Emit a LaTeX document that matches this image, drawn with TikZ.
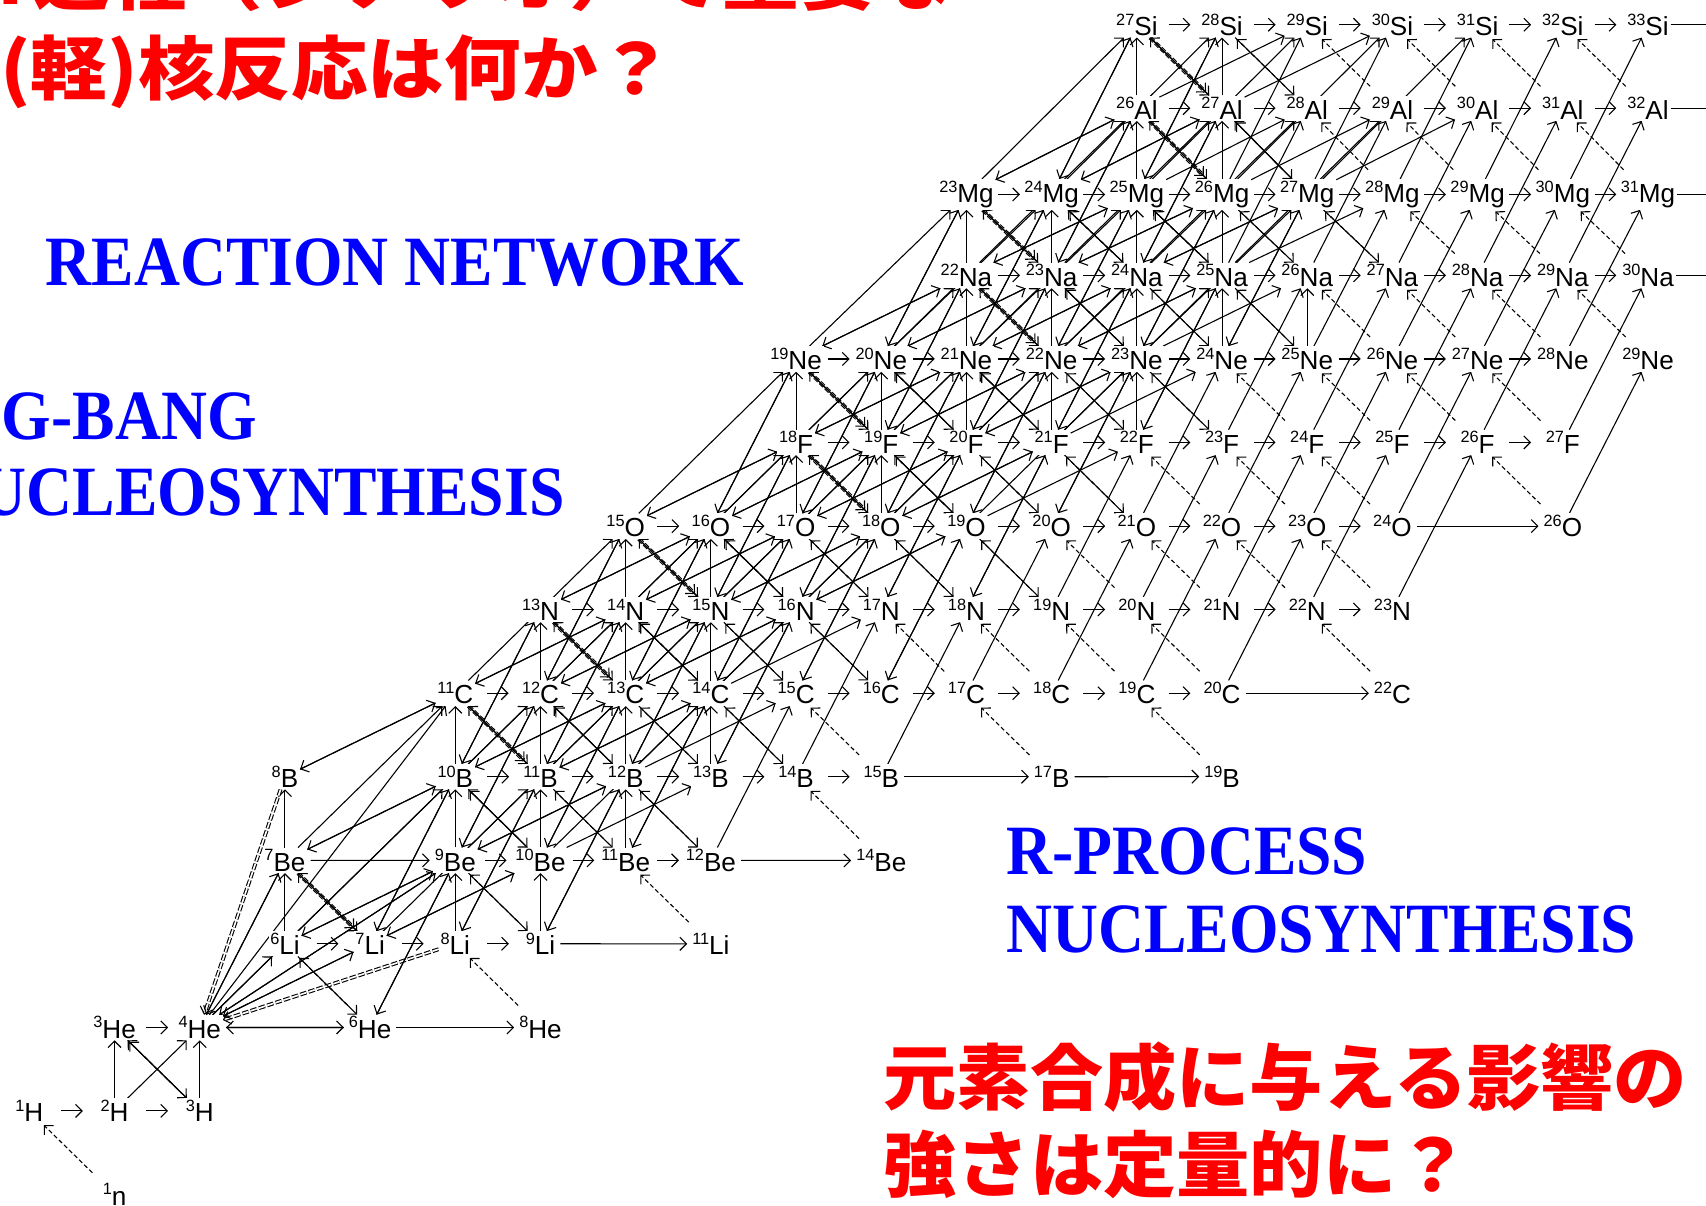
\documentclass[tikz,border=0pt]{standalone}
\usepackage{fontspec}
\setmainfont{Liberation Sans}
\newfontfamily\serifb{Liberation Serif}
\newfontfamily\cjk{Noto Sans CJK JP}
\usetikzlibrary{arrows.meta,calc,backgrounds}
\makeatletter
\newcommand\IfCS[3]{\ifcsname #1\endcsname\expandafter\@firstoftwo\else\expandafter\@secondoftwo\fi{#2}{#3}}
\makeatother
\newcommand\IfNode[3]{\IfCS{pgf@sh@ns@#1}{#2}{#3}}
\newcommand\nucl[2]{{\fontsize{15}{15}\selectfont\raisebox{9.5pt}{#1}}#2}
\newcommand\bluet[1]{\scalebox{0.9}[1]{\fontsize{65}{65}\selectfont\serifb\bfseries #1}}
\newcommand\redt[3]{\scalebox{#1}[1]{\fontsize{#2}{#2}\selectfont\cjk\bfseries #3}}
\expandafter\def\csname noh@3-5\endcsname{}
\expandafter\def\csname noh@18-10\endcsname{}
\expandafter\def\csname noc@1-2\endcsname{}
\expandafter\def\csname noc@2-1\endcsname{}
\def\rowsN{0/n/{1},1/H/{0,1,2},2/He/{1,2,4,6},3/Li/{3,4,5,6,8},4/Be/{3,5,6,7,8,10},5/B/{3,5,6,7,8,9,10,12,14},6/C/{5,6,7,8,9,10,11,12,13,14,16},7/N/{6,...,16},8/O/{7,8,9,10,11,12,13,14,15,16,18},9/F/{9,...,18},10/Ne/{9,...,19},11/Na/{11,...,19},12/Mg/{11,...,19},13/Al/{13,...,19},14/Si/{13,...,19}}
\begin{document}
\begin{tikzpicture}[x=1pt,y=-1pt,
  nl/.style={anchor=base,inner sep=1.5pt,fill=white,font=\fontsize{24}{24}\selectfont},
  rx/.style={line width=1pt,-{Straight Barb[length=6pt,width=12pt]}},
  lng/.style={rx,shorten <=3pt,shorten >=3pt},
  bmin/.style={rx,dash pattern=on 4pt off 2.5pt,shorten <=12pt,shorten >=2pt},
  bplus/.style={rx,double,double distance=1.5pt,dash pattern=on 5pt off 2pt,shorten >=4pt},
  bdbl/.style={rx,double,double distance=1.5pt,dash pattern=on 6pt off 2pt},
  bluetxt/.style={anchor=base west,inner sep=0,text=blue},
  redtxt/.style={anchor=base west,inner sep=0,text=red},
]
\useasboundingbox (0,0) rectangle (1568,1108);

% nuclide labels
\foreach \Z/\sym/\Ns in \rowsN {
  \foreach \N in \Ns {
    \pgfmathtruncatemacro\mA{\N+\Z}
    \node[nl] (n\N-\Z) at ({27+\N*78.3},{1031-(\Z-1)*76.8}) {\nucl{\mA}{\sym}};
  }
}

\begin{pgfonlayer}{background}
% (n,gamma) horizontal
\foreach \Z/\sym/\Ns in \rowsN {
  \foreach \N in \Ns {
    \pgfmathtruncatemacro\nA{\N+1}
    \pgfmathtruncatemacro\nB{\N+2}
    \IfCS{noh@\N-\Z}{}{%
      \IfNode{n\nA-\Z}{\draw[rx] ($(n\N-\Z.east)!.5!(n\nA-\Z.west)+(-10,0)$) -- ++(20,0);}%
      {\IfNode{n\nB-\Z}{\draw[lng] (n\N-\Z.east) -- (n\nB-\Z.west);}{}}}
  }
}
\draw[lng] (n4-2.west) -- (n2-2.east);
\foreach \Z in {11,...,14} {
  \coordinate (edge\Z) at ($(n19-\Z.east)+(60,0)$);
  \draw[rx] (n19-\Z.east) -- (edge\Z);
}
% (p,gamma) vertical
\foreach \Z/\Ns in {1/{1,2},3/{3,5,6},4/{3,5,6,7},5/{5,6,7,8},6/{6,7,8},7/{7,8},8/{9,10},9/{9,...,13},10/{11,...,15},11/{11,...,14},12/{13,14},13/{13,14}} {
  \foreach \N in \Ns {
    \pgfmathtruncatemacro\uZ{\Z+1}
    \IfNode{n\N-\uZ}{\draw[rx] (n\N-\Z) -- (n\N-\uZ);}{}
  }
}
% beta minus
\foreach \Z/\Ns in {0/{1},1/{2},2/{4,6},3/{6,8},4/{6,7,8,10},5/{7,8,9,10,12,14},6/{8,...,14,16},7/{9,...,16},8/{11,...,16,18},9/{11,...,18},10/{13,...,19},11/{13,...,19},12/{15,...,19},13/{15,...,19}} {
  \foreach \N in \Ns {
    \pgfmathtruncatemacro\tN{\N-1}
    \pgfmathtruncatemacro\tZ{\Z+1}
    \IfNode{n\tN-\tZ}{\draw[bmin] (n\N-\Z) -- (n\tN-\tZ);}{}
  }
}
% beta plus
\foreach \N/\Z in {3/4,5/6,6/7,7/8,9/9,9/10,11/11,11/12,13/13,13/14} {
  \pgfmathtruncatemacro\tN{\N+1}
  \pgfmathtruncatemacro\tZ{\Z-1}
  \draw[bplus] (n\N-\Z) -- (n\tN-\tZ);
}
\draw[bdbl] (n3-5) -- (n2-2);
\draw[bdbl] (n5-3) -- (n2-2);
% (alpha,n)
\foreach \Z/\Ns in {2/{4},3/{3,4,5,6},4/{3,5,6,7,8},5/{5,...,10},6/{5,...,16},7/{6,...,16},8/{7,...,18},9/{9,...,18},10/{9,...,19},11/{11,...,19},12/{11,...,19}} {
  \foreach \N in \Ns {
    \pgfmathtruncatemacro\tN{\N+1}
    \pgfmathtruncatemacro\tZ{\Z+2}
    \IfNode{n\N-\Z}{\IfNode{n\tN-\tZ}{\draw[rx] (n\N-\Z) -- (n\tN-\tZ);}{}}{}
  }
}
% charged-particle core reactions
\foreach \Z/\Ns in {3/{3,4},4/{3,5,6},5/{3,5,6,7},6/{5,6,7,8},7/{6,7,8,9},8/{7,8,9,10,11},9/{9,10,11,12},10/{9,10,11,12,13},11/{11,12,13,14},12/{11,12,13,14,15},13/{13,14},14/{13,14}} {
  \foreach \N in \Ns {
    \foreach \dN/\dZ in {2/2,2/1,-2/-1,-1/-2,-1/1,1/-1} {
      \pgfmathtruncatemacro\tN{\N+\dN}
      \pgfmathtruncatemacro\tZ{\Z+\dZ}
      \IfCS{noc@\tN-\tZ}{}{\IfNode{n\tN-\tZ}{\draw[rx] (n\N-\Z) -- (n\tN-\tZ);}{}}
    }
  }
}
% light-element extras
\draw[rx] (n1-2) -- (n2-1);
\draw[rx] (n2-1) -- (n1-2);
\draw[rx] (n1-1) -- (n2-2);
\draw[rx] (n2-2) -- (n6-6);
\draw[rx] (n2-2) -- (n5-6);
\draw[rx] (n2-2) -- (n5-4);
\draw[rx] (n2-2) -- (n3-4);
\draw[rx] (n2-2) -- (n4-3);
\draw[rx] (n2-2) -- (n3-3);
\draw[rx] (n5-4) -- (n2-2);
\end{pgfonlayer}

% titles
\node[redtxt] (q1) at (-2,4) {\redt{1.1}{64}{r過程（シナリオ）で重要な}};
\node[redtxt] (q2) at (0,87) {\redt{1.1}{64}{(軽)核反応は何か？}};
\node[bluetxt] (rn) at (42,262) {\bluet{REACTION NETWORK}};
\node[bluetxt,anchor=base east] (bb) at (236,404) {\bluet{BIG-BANG}};
\node[bluetxt,anchor=base east] (bn) at (519,474) {\bluet{NUCLEOSYNTHESIS}};
\node[bluetxt] (rp) at (925,804) {\bluet{R-PROCESS}};
\node[bluetxt] (rq) at (925,875) {\bluet{NUCLEOSYNTHESIS}};
\node[redtxt] (q3) at (812,1015) {\redt{1.02}{66}{元素合成に与える影響の}};
\node[redtxt] (q4) at (812,1095) {\redt{1.02}{66}{強さは定量的に？}};
\end{tikzpicture}
\end{document}
